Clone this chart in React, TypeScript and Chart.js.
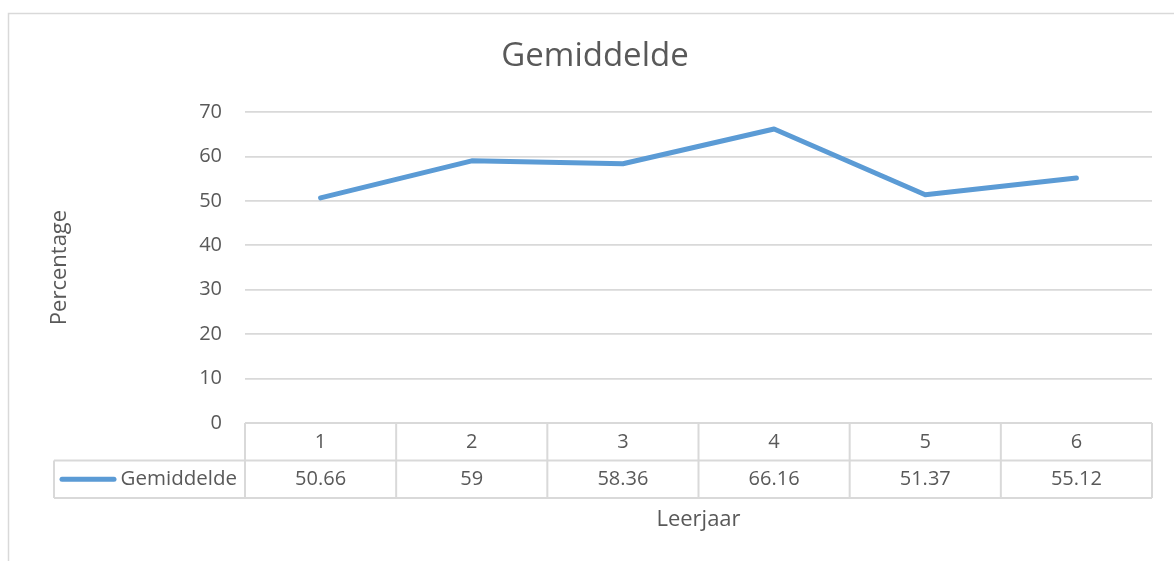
import React, { useEffect, useRef } from "react";
import { Chart, registerables } from "chart.js";

Chart.register(...registerables);

const categories = ["1", "2", "3", "4", "5", "6"];
const seriesName = "Gemiddelde";
const values = [50.66, 59, 58.36, 66.16, 51.37, 55.12];
const yTicks = [0, 10, 20, 30, 40, 50, 60, 70];
const chartTitle = "Gemiddelde";
const xTitle = "Leerjaar";
const yTitle = "Percentage";

const FONT = "'Open Sans', sans-serif";
const TEXT = "#595959";
const GRID = "#d9d9d9";
const LINE = "#5b9bd5";

const tablePlugin = {
  id: "dataTable",
  beforeDraw(chart: any) {
    const { ctx } = chart;
    ctx.save();
    ctx.strokeStyle = GRID;
    ctx.lineWidth = 1.5;
    ctx.strokeRect(8.5, 13.5, 1400, 1000);
    ctx.fillStyle = TEXT;
    ctx.font = `33px ${FONT}`;
    ctx.textAlign = "center";
    ctx.textBaseline = "middle";
    ctx.fillText(chartTitle, 595, 57);
    ctx.restore();
  },
  afterDraw(chart: any) {
    const { ctx, chartArea } = chart;
    const xs = chart.scales.x;
    const n = categories.length;
    const left = chartArea.left;
    const right = chartArea.right;
    const colW = (right - left) / n;
    const top = chartArea.bottom;
    const rowH = 37.5;
    const legendLeft = 54;
    ctx.save();
    ctx.strokeStyle = GRID;
    ctx.lineWidth = 2;
    ctx.beginPath();
    ctx.moveTo(left, top);
    ctx.lineTo(right, top);
    ctx.moveTo(legendLeft, top + rowH);
    ctx.lineTo(right, top + rowH);
    ctx.moveTo(legendLeft, top + 2 * rowH);
    ctx.lineTo(right, top + 2 * rowH);
    ctx.moveTo(legendLeft, top + rowH);
    ctx.lineTo(legendLeft, top + 2 * rowH);
    for (let i = 0; i <= n; i++) {
      const x = left + i * colW;
      ctx.moveTo(x, top);
      ctx.lineTo(x, top + 2 * rowH);
    }
    ctx.stroke();

    ctx.fillStyle = TEXT;
    ctx.font = `20px ${FONT}`;
    ctx.textAlign = "center";
    ctx.textBaseline = "middle";
    const yMid = top + rowH * 1.5;
    values.forEach((v, i) => {
      const x = xs.getPixelForValue(i);
      ctx.fillText(String(v), x, yMid);
    });

    ctx.strokeStyle = LINE;
    ctx.lineWidth = 5;
    ctx.lineCap = "round";
    ctx.beginPath();
    ctx.moveTo(62, yMid);
    ctx.lineTo(114, yMid);
    ctx.stroke();
    ctx.textAlign = "right";
    ctx.font = `20.5px ${FONT}`;
    ctx.fillText(seriesName, left - 8, yMid);
    ctx.restore();
  },
};

export default function App() {
  const ref = useRef<HTMLCanvasElement>(null);
  useEffect(() => {
    if (!ref.current) return;
    const chart = new Chart(ref.current, {
      type: "line",
      data: {
        labels: categories,
        datasets: [
          {
            label: seriesName,
            data: values,
            borderColor: LINE,
            backgroundColor: LINE,
            borderWidth: 5,
            pointRadius: 0,
            tension: 0,
            borderCapStyle: "round",
            borderJoinStyle: "round",
          },
        ],
      },
      options: {
        responsive: false,
        animation: false,
        layout: { padding: { top: 112, left: 0, right: 22, bottom: 0 } },
        plugins: {
          legend: { display: false },
          tooltip: { enabled: false },
          title: { display: false },
        },
        scales: {
          x: {
            type: "category",
            offset: true,
            grid: { display: false, drawTicks: false },
            border: { display: false },
            ticks: {
              color: TEXT,
              font: { family: FONT, size: 20 },
              padding: 7,
              maxRotation: 0,
            },
            title: {
              display: true,
              text: xTitle,
              color: TEXT,
              font: { family: FONT, size: 22 },
              padding: { top: 0, bottom: 28 },
            },
            afterFit(scale: any) {
              scale.height = 138;
            },
          },
          y: {
            min: 0,
            max: 70,
            afterBuildTicks(scale: any) {
              scale.ticks = yTicks.map((v) => ({ value: v }));
            },
            grid: { color: GRID, lineWidth: 1.75, drawTicks: false },
            border: { display: false },
            ticks: {
              color: TEXT,
              font: { family: FONT, size: 20 },
              padding: 23,
            },
            title: {
              display: true,
              text: yTitle,
              color: TEXT,
              font: { family: FONT, size: 22 },
              padding: { top: 47, bottom: 0 },
            },
            afterFit(scale: any) {
              scale.width = 245;
            },
          },
        },
      },
      plugins: [tablePlugin],
    } as any);
    return () => chart.destroy();
  }, []);
  return (
    <div style={{ position: "absolute", left: 0, top: 0, width: 1174, height: 561, overflow: "hidden", background: "#fff" }}>
      <canvas ref={ref} width={1174} height={561} style={{ display: "block" }} />
    </div>
  );
}
